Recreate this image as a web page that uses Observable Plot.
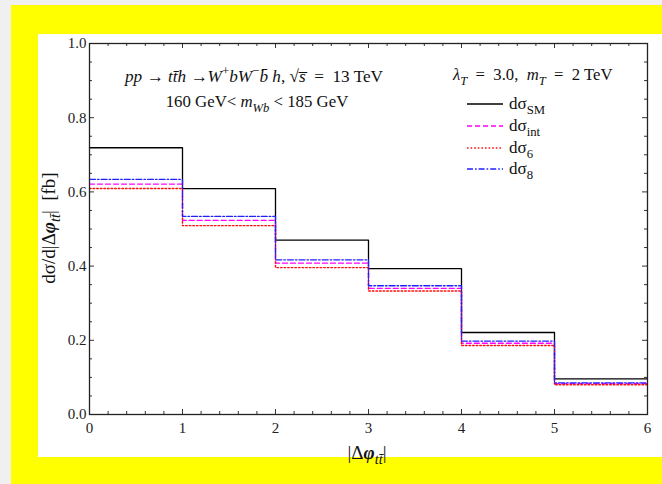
<!DOCTYPE html>
<html>
<head>
<meta charset="utf-8">
<script src="https://cdn.jsdelivr.net/npm/d3@7"></script>
<script src="https://cdn.jsdelivr.net/npm/@observablehq/plot@0.6"></script>
<style>
  html, body { margin: 0; padding: 0; }
  body { width: 662px; height: 484px; background: #f0f0f0; position: relative; overflow: hidden; }
  #yellow { position: absolute; left: 11px; top: 5px; width: 651px; height: 479px; background: #ffff00; }
  #panel { position: absolute; left: 38px; top: 34px; width: 624px; height: 423px; background: #ffffff; }
  #chart { position: absolute; left: 0; top: 0; }
</style>
</head>
<body>
<div id="yellow"></div>
<div id="panel"></div>
<div id="chart"></div>
<script>
// Bin edges of |Δφ_tt̄| and the differential cross sections per bin (fb)
const binEdges = [0, 1, 2, 3, 4, 5, 6];
const sigmaSM  = [0.719, 0.609, 0.470, 0.393, 0.221, 0.096];
const sigmaInt = [0.621, 0.523, 0.408, 0.340, 0.192, 0.083];
const sigma6   = [0.609, 0.509, 0.396, 0.333, 0.186, 0.080];
const sigma8   = [0.634, 0.534, 0.417, 0.347, 0.198, 0.085];

const xTicks = [0, 1, 2, 3, 4, 5, 6];
const yTicks = [0.0, 0.2, 0.4, 0.6, 0.8, 1.0];
const xMinor = d3.range(0, 6.0001, 0.2).map(v => +v.toFixed(1)).filter(v => !xTicks.includes(v));
const yMinor = d3.range(0, 1.0001, 0.05).map(v => +v.toFixed(2)).filter(v => !yTicks.some(t => Math.abs(t - v) < 1e-9));

const series = [
  {key: "SM",  values: sigmaSM,  stroke: "#000000", dash: null,        width: 1.3},
  {key: "int", values: sigmaInt, stroke: "#ff00ff", dash: "5,3",       width: 1.3},
  {key: "6",   values: sigma6,   stroke: "#ff1010", dash: "1.6,2",     width: 1.4},
  {key: "8",   values: sigma8,   stroke: "#2020ff", dash: "6,2,1.6,2", width: 1.3}
];

// Histogram steps: one point per bin's left edge, plus the last value repeated at the right edge
function steps(values) {
  const pts = values.map((v, i) => ({x: binEdges[i], y: v}));
  pts.push({x: binEdges[binEdges.length - 1], y: values[values.length - 1]});
  return pts;
}

const W = 662, H = 484;
const mL = 89, mR = 15, mT = 43, mB = 70;
const innerW = W - mL - mR, innerH = H - mT - mB;
const major = 5, minor = 3;

const plot = Plot.plot({
  width: W,
  height: H,
  marginLeft: mL,
  marginRight: mR,
  marginTop: mT,
  marginBottom: mB,
  style: {background: "transparent", fontFamily: "'Liberation Serif', 'DejaVu Serif', serif", fontSize: "15px", color: "#222"},
  x: {domain: [0, 6]},
  y: {domain: [0, 1]},
  marks: [
    // tick marks pointing inward on all four sides
    Plot.ruleX(xTicks, {x: d => d, insetTop: innerH - major, stroke: "#333"}),
    Plot.ruleX(xTicks, {x: d => d, insetBottom: innerH - major, stroke: "#333"}),
    Plot.ruleX(xMinor, {x: d => d, insetTop: innerH - minor, stroke: "#333"}),
    Plot.ruleX(xMinor, {x: d => d, insetBottom: innerH - minor, stroke: "#333"}),
    Plot.ruleY(yTicks, {y: d => d, insetRight: innerW - major, stroke: "#333"}),
    Plot.ruleY(yTicks, {y: d => d, insetLeft: innerW - major, stroke: "#333"}),
    Plot.ruleY(yMinor, {y: d => d, insetRight: innerW - minor, stroke: "#333"}),
    Plot.ruleY(yMinor, {y: d => d, insetLeft: innerW - minor, stroke: "#333"}),
    Plot.axisX({ticks: xTicks, tickSize: 0, tickPadding: 8, tickFormat: d3.format("d"), label: null, fontSize: 15}),
    Plot.axisY({ticks: yTicks, tickSize: 0, tickPadding: 3, tickFormat: d3.format(".1f"), label: null, fontSize: 15}),
    ...series.map(s => Plot.line(steps(s.values), {
      x: "x", y: "y", curve: "step-after",
      stroke: s.stroke, strokeWidth: s.width, strokeDasharray: s.dash
    })),
    Plot.frame({stroke: "#222", strokeWidth: 1.3})
  ]
});

document.getElementById("chart").appendChild(plot);

// Rich text (sub/superscripts) for annotations, legend and axis titles
const svg = d3.select(plot);
const font = "'Liberation Serif', 'DejaVu Serif', serif";

function richText(g, x, y, parts, opts = {}) {
  const size = opts.size || 15;
  const t = g.append("text")
    .attr("x", x).attr("y", y)
    .attr("font-family", font)
    .attr("font-size", size)
    .attr("fill", "#111")
    .attr("text-anchor", opts.anchor || "start");
  if (opts.transform) t.attr("transform", opts.transform);
  let shift = 0;
  for (const p of parts) {
    const [str, style] = typeof p === "string" ? [p, {}] : p;
    const target = style.sub ? Math.round(size * 0.27) : style.sup ? -Math.round(size * 0.4) : 0;
    const span = t.append("tspan").text(str);
    if (target !== shift) { span.attr("dy", target - shift); shift = target; }
    if (style.italic) span.attr("font-style", "italic");
    if (style.sub || style.sup) span.attr("font-size", size * 0.75);
    if (style.bold) span.attr("font-weight", "bold");
  }
  return t;
}

const it = {italic: true};
const g = svg.append("g");

richText(g, 254, 82, [
  ["pp", it], " → ", ["tt̄h", it], " →", ["W", it], ["+", {sup: true}], ["b", it],
  ["W", it], ["−", {sup: true}], ["b̄", it], " ", ["h", it], ", √", ["s̅", it], "  =  13 TeV"
], {anchor: "middle", size: 17.2});

richText(g, 257, 107, [
  "160 GeV< ", ["m", it], ["Wb", {sub: true, italic: true}], " < 185 GeV"
], {anchor: "middle", size: 16.8});

richText(g, 453, 80, [
  ["λ", it], ["T", {sub: true, italic: true}], "  =  3.0,  ", ["m", it], ["T", {sub: true, italic: true}], "  =  2 TeV"
], {size: 16.7});

// Legend
const legendRows = [
  {s: series[0], label: "SM",  y: 104},
  {s: series[1], label: "int", y: 126},
  {s: series[2], label: "6",   y: 148},
  {s: series[3], label: "8",   y: 169}
];
for (const r of legendRows) {
  g.append("line")
    .attr("x1", 467).attr("x2", 503)
    .attr("y1", r.y).attr("y2", r.y)
    .attr("stroke", r.s.stroke)
    .attr("stroke-width", r.s.width)
    .attr("stroke-dasharray", r.s.dash);
  richText(g, 509, r.y + 5, ["dσ", [r.label, {sub: true}]], {size: 17});
}

// Axis titles
richText(g, 0, 0, [
  "dσ/d|Δ", ["φ", {italic: true, bold: true}], ["tt̄", {sub: true, italic: true}], "|  [fb]"
], {anchor: "middle", size: 19, transform: "translate(55,228) rotate(-90)"});

richText(g, 367, 459, [
  "|Δ", ["φ", {italic: true, bold: true}], ["tt̄", {sub: true, italic: true}], "|"
], {anchor: "middle", size: 19});
</script>
</body>
</html>
